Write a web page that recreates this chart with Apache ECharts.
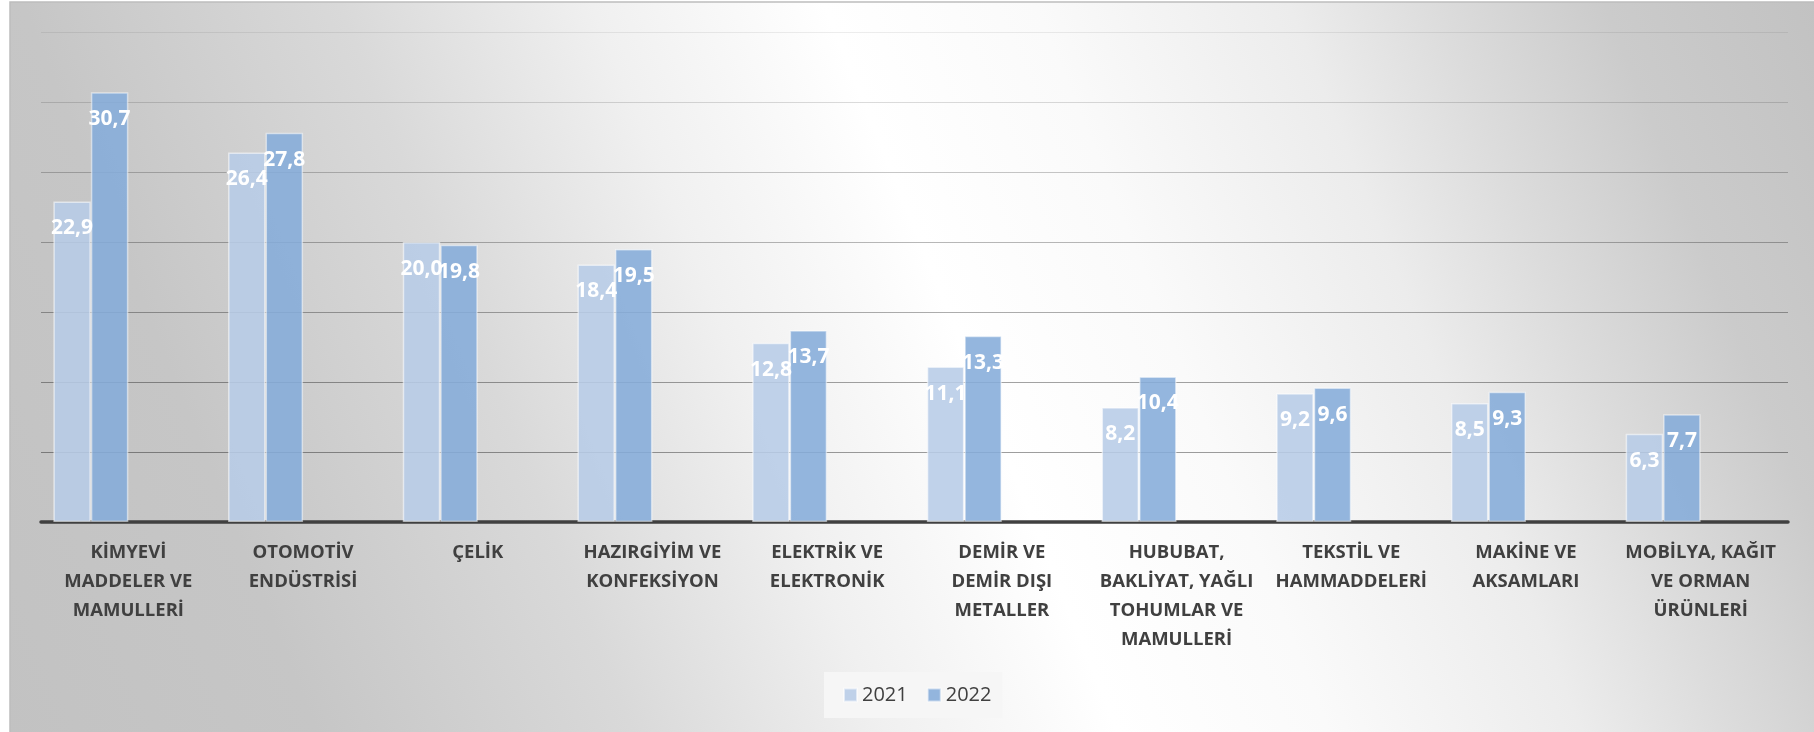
<!DOCTYPE html>
<html>
<head>
<meta charset="utf-8">
<script src="https://cdn.jsdelivr.net/npm/echarts@6/dist/echarts.min.js"></script>
<style>
  html, body { margin: 0; padding: 0; background: #fff; }
  #chart { width: 1814px; height: 732px; }
</style>
</head>
<body>
<div id="chart"></div>
<script>
// sector names (line breaks as in the original labels)
const categories = [
    'KİMYEVİ\nMADDELER VE\nMAMULLERİ',
    'OTOMOTİV\nENDÜSTRİSİ',
    'ÇELİK',
    'HAZIRGİYİM VE\nKONFEKSİYON',
    'ELEKTRİK VE\nELEKTRONİK',
    'DEMİR VE\nDEMİR DIŞI\nMETALLER',
    'HUBUBAT,\nBAKLİYAT, YAĞLI\nTOHUMLAR VE\nMAMULLERİ',
    'TEKSTİL VE\nHAMMADDELERİ',
    'MAKİNE VE\nAKSAMLARI',
    'MOBİLYA, KAĞIT\nVE ORMAN\nÜRÜNLERİ'
];
const seriesNames = ['2021', '2022'];
const values2021 = [22.9, 26.4, 20.0, 18.4, 12.8, 11.1, 8.2, 9.2, 8.5, 6.3];
const values2022 = [30.7, 27.8, 19.8, 19.5, 13.7, 13.3, 10.4, 9.6, 9.3, 7.7];

const FONT = '"Open Sans", "Noto Sans", sans-serif';

const chart = echarts.init(document.getElementById('chart'), null, { renderer: 'canvas' });

const barLabel = {
    show: true,
    position: 'insideTop',
    distance: 16,
    color: '#ffffff',
    fontFamily: FONT,
    fontWeight: 'bold',
    fontSize: 21,
    lineHeight: 22,
    formatter: p => p.value.toFixed(1).replace('.', ',')
};

const option = {
    animation: false,
    backgroundColor: '#ffffff',
    graphic: {
        elements: [{
            type: 'rect',
            z: -100,
            silent: true,
            shape: { x: 10, y: 2, width: 1810, height: 740 },
            style: {
                fill: {
                    type: 'linear', x: 0, y: 732, x2: 1814, y2: 0, global: true,
                    colorStops: [
                        { offset: 0, color: '#c2c2c2' },
                        { offset: 0.15, color: '#c6c6c6' },
                        { offset: 0.3, color: '#d9d9d9' },
                        { offset: 0.42, color: '#f0f0f0' },
                        { offset: 0.53, color: '#ffffff' },
                        { offset: 0.63, color: '#fafafa' },
                        { offset: 0.75, color: '#ececec' },
                        { offset: 0.82, color: '#dcdcdc' },
                        { offset: 0.9, color: '#cbcbcb' },
                        { offset: 1, color: '#c2c2c2' }
                    ]
                },
                stroke: '#bdbdbd',
                lineWidth: 1.5
            }
        }]
    },
    grid: { left: 41, right: 26, top: 32, bottom: 210, containLabel: false },
    legend: {
        data: seriesNames,
        left: 824,
        top: 672,
        icon: 'rect',
        itemWidth: 13,
        itemHeight: 13,
        itemGap: 19,
        padding: [13, 11, 13, 19],
        backgroundColor: '#f6f6f6',
        textStyle: { fontFamily: FONT, fontSize: 20, color: '#404040' }
    },
    xAxis: {
        type: 'category',
        data: categories,
        axisTick: { show: false },
        axisLine: { lineStyle: { color: '#404040', width: 3.5 } },
        axisLabel: {
            interval: 0,
            margin: 16,
            fontFamily: FONT,
            fontSize: 18.5,
            fontWeight: 'bold',
            color: '#404040',
            lineHeight: 29
        }
    },
    yAxis: {
        type: 'value',
        min: 0,
        max: 35,
        interval: 5,
        axisLabel: { show: false },
        axisLine: { show: false },
        axisTick: { show: false },
        splitLine: {
            lineStyle: {
                width: 1.2,
                color: [
                    'rgba(0,0,0,0.4)', 'rgba(0,0,0,0.38)', 'rgba(0,0,0,0.36)', 'rgba(0,0,0,0.32)',
                    'rgba(0,0,0,0.28)', 'rgba(0,0,0,0.22)', 'rgba(0,0,0,0.14)', 'rgba(0,0,0,0.07)'
                ]
            }
        }
    },
    series: [
        {
            name: seriesNames[0],
            type: 'bar',
            data: values2021,
            barWidth: 37.5,
            barGap: '0%',
            itemStyle: { color: 'rgba(183,204,231,0.88)', borderColor: 'rgba(255,255,255,0.55)', borderWidth: 1.5 },
            label: barLabel
        },
        {
            name: seriesNames[1],
            type: 'bar',
            data: values2022,
            barWidth: 37.5,
            barGap: '0%',
            itemStyle: { color: 'rgba(133,172,218,0.88)', borderColor: 'rgba(255,255,255,0.5)', borderWidth: 1.5 },
            label: barLabel
        },
        {
            // empty slot: keeps the bar pair left of the category centre, as in the original
            name: 'pad',
            type: 'bar',
            data: [],
            barWidth: 75,
            barGap: '0%',
            silent: true
        }
    ]
};

chart.setOption(option);
</script>
</body>
</html>
